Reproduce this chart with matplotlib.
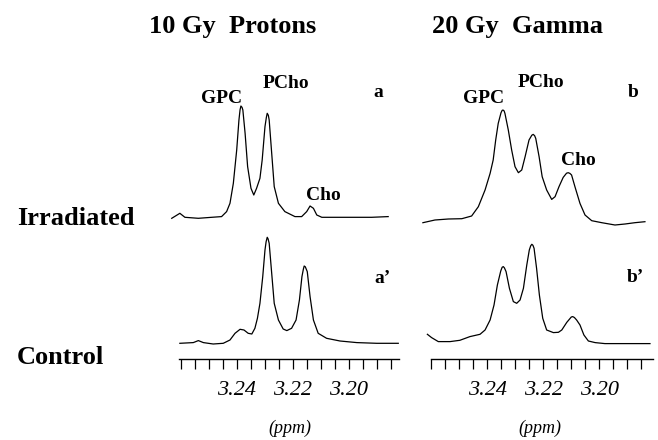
import matplotlib
matplotlib.use('Agg')
import matplotlib.pyplot as plt
from matplotlib.ticker import FixedLocator

plt.rcParams['font.family'] = ['Liberation Serif', 'DejaVu Serif']

# ---------------- data ----------------
# 10 Gy protons, irradiated (a)
prot_irr_ppm = [3.2632, 3.2603, 3.2585, 3.2537, 3.2489, 3.2454, 3.2436, 3.2424, 3.2412,
                3.2400, 3.2392, 3.2388, 3.2385, 3.2381, 3.2378, 3.2370, 3.2361, 3.2349,
                3.2339, 3.2329, 3.2317, 3.2309, 3.2299, 3.2294, 3.2291, 3.2287, 3.2284,
                3.2275, 3.2266, 3.2251, 3.2228, 3.2192, 3.2168, 3.2150, 3.2138, 3.2126,
                3.2114, 3.2096, 3.2037, 3.1966, 3.1918, 3.1859]
prot_irr_int = [-1.0, 4.0, 0.0, -1.0, 0.0, 0.7, 5.7, 14.0, 34.0,
                67.3, 97.3, 107.5, 111.3, 110.0, 107.3, 84.0, 50.7, 29.0,
                22.3, 29.0, 39.0, 57.3, 90.7, 100.0, 104.0, 102.0, 97.3,
                64.0, 30.7, 14.0, 5.7, 0.7, 0.7, 5.7, 11.3, 9.0,
                2.3, 0.0, 0.0, 0.0, 0.0, 0.7]

# 10 Gy protons, control (a')
prot_ctl_ppm = [3.2603, 3.2555, 3.2537, 3.2519, 3.2484, 3.2448, 3.2424, 3.2406, 3.2388,
                3.2374, 3.2359, 3.2346, 3.2335, 3.2326, 3.2317, 3.2307, 3.2299, 3.2295,
                3.2291, 3.2288, 3.2284, 3.2275, 3.2266, 3.2251, 3.2234, 3.2221, 3.2204,
                3.2188, 3.2176, 3.2167, 3.2162, 3.2159, 3.2155, 3.2148, 3.2138, 3.2126,
                3.2109, 3.2079, 3.2031, 3.1971, 3.1900, 3.1823]
prot_ctl_int = [0.0, 0.7, 2.7, 0.7, -0.7, 0.0, 3.3, 10.0, 14.0,
                13.3, 10.0, 9.3, 15.0, 25.0, 40.0, 66.7, 93.3, 101.5,
                106.0, 104.5, 100.0, 70.0, 40.0, 23.3, 14.3, 12.7, 15.0,
                23.3, 43.3, 66.7, 74.0, 77.3, 76.5, 71.7, 46.7, 23.3,
                10.0, 5.0, 2.3, 0.7, 0.0, 0.0]

# 20 Gy gamma, irradiated (b)
gam_irr_ppm = [3.2630, 3.2587, 3.2539, 3.2491, 3.2456, 3.2432, 3.2408, 3.2390, 3.2379,
               3.2370, 3.2361, 3.2351, 3.2347, 3.2344, 3.2340, 3.2337, 3.2325, 3.2313,
               3.2301, 3.2289, 3.2277, 3.2265, 3.2251, 3.2241, 3.2236, 3.2231, 3.2227,
               3.2215, 3.2204, 3.2188, 3.2170, 3.2158, 3.2144, 3.2129, 3.2117, 3.2111,
               3.2105, 3.2099, 3.2087, 3.2069, 3.2051, 3.2027, 3.1991, 3.1944, 3.1908,
               3.1873, 3.1837]
gam_irr_int = [-1.0, 1.7, 2.7, 3.0, 5.7, 15.0, 31.7, 48.3, 61.7,
               81.7, 98.3, 109.0, 111.3, 111.7, 110.8, 108.3, 91.7, 71.7,
               55.0, 49.0, 51.7, 65.0, 81.7, 86.5, 87.3, 86.0, 83.3,
               65.0, 45.0, 31.7, 22.3, 25.0, 35.0, 44.3, 48.5, 49.0,
               48.3, 46.7, 35.0, 18.3, 6.7, 1.0, -1.0, -3.3, -2.3,
               -1.0, 0.0]

# 20 Gy gamma, control (b')
gam_ctl_ppm = [3.2614, 3.2599, 3.2575, 3.2533, 3.2498, 3.2462, 3.2426, 3.2408, 3.2390,
               3.2376, 3.2364, 3.2352, 3.2347, 3.2343, 3.2339, 3.2333, 3.2321, 3.2307,
               3.2295, 3.2283, 3.2271, 3.2259, 3.2250, 3.2245, 3.2241, 3.2237, 3.2233,
               3.2224, 3.2214, 3.2202, 3.2188, 3.2164, 3.2146, 3.2134, 3.2116, 3.2100,
               3.2095, 3.2089, 3.2081, 3.2069, 3.2055, 3.2039, 3.2015, 3.1980, 3.1926,
               3.1866, 3.1819]
gam_ctl_int = [8.0, 4.7, 0.7, 0.7, 2.0, 5.7, 8.0, 12.3, 22.3,
               37.3, 57.3, 71.3, 75.0, 75.7, 74.5, 70.7, 54.0, 40.7,
               39.0, 42.3, 54.0, 77.3, 92.3, 96.5, 98.0, 97.0, 94.0,
               74.0, 47.3, 24.0, 12.3, 9.7, 10.0, 12.3, 20.0, 25.3,
               25.7, 24.8, 22.3, 17.3, 7.3, 1.3, -0.3, -1.3, -1.3,
               -1.3, -1.3]

column_titles = ['10 Gy  Protons', '20 Gy  Gamma']
row_labels = ['Irradiated', 'Control']
panel_tags = [['a', 'a\u2019'], ['b', 'b\u2019']]
peak_names = ['GPC', 'PCho', 'Cho']
major_ticks = [3.24, 3.22, 3.20]
major_labels = ['3.24', '3.22', '3.20']
minor_ticks = [3.26, 3.255, 3.25, 3.245, 3.235, 3.23, 3.225, 3.215, 3.21, 3.205,
               3.195, 3.19, 3.185]
x_label = '(ppm)'

# ---------------- layout ----------------
W, H = 658, 440
fig = plt.figure(figsize=(W / 100, H / 100), dpi=100)


def fx(px):
    return px / W


def fy(py):
    return 1 - py / H


AX_TOP, AX_BOT = 60, 400          # pixel rows covered by the axes
CTRL_BASE = 343.3                 # pixel row of data y = 0


def make_axes(left_px, right_px, ref_px, bounds):
    # ppm = 3.24 - (x - ref_px) / 2800  (56 px per 0.02 ppm)
    ax = fig.add_axes([fx(left_px), fy(AX_BOT), (right_px - left_px) / W,
                       (AX_BOT - AX_TOP) / H])
    ax.set_xlim(3.24 + (ref_px - left_px) / 2800, 3.24 - (right_px - ref_px) / 2800)
    ax.set_ylim(CTRL_BASE - AX_BOT, CTRL_BASE - AX_TOP)
    ax.patch.set_visible(False)
    for s in ['top', 'left', 'right']:
        ax.spines[s].set_visible(False)
    ax.spines['bottom'].set_position(('data', CTRL_BASE - 359))
    ax.spines['bottom'].set_bounds(*bounds)
    ax.spines['bottom'].set_linewidth(1.0)
    ax.set_yticks([])
    ax.xaxis.set_major_locator(FixedLocator(major_ticks))
    ax.set_xticklabels(major_labels, fontsize=16, fontstyle='italic')
    ax.xaxis.set_minor_locator(FixedLocator(minor_ticks))
    ax.tick_params(axis='x', which='both', direction='out', length=7.2, width=0.9,
                   pad=8.5)
    return ax


axL = make_axes(165, 405, 236.7, (3.2607, 3.1820))
axR = make_axes(415, 655, 487.3, (3.2601, 3.1808))

lw = 0.9
off_L_irr = CTRL_BASE - 217.3
off_R_irr = CTRL_BASE - 221.7
off_R_ctl = CTRL_BASE - 342.3

axL.plot(prot_irr_ppm, [v + off_L_irr for v in prot_irr_int], color='black', lw=lw)
axL.plot(prot_ctl_ppm, prot_ctl_int, color='black', lw=lw)
axR.plot(gam_irr_ppm, [v + off_R_irr for v in gam_irr_int], color='black', lw=lw)
axR.plot(gam_ctl_ppm, [v + off_R_ctl for v in gam_ctl_int], color='black', lw=lw)

# ---------------- text ----------------
bold_big = dict(fontsize=19, fontweight='bold', va='baseline')
fig.text(fx(232.5), fy(33), column_titles[0], ha='center', **bold_big)
fig.text(fx(517), fy(33), column_titles[1], ha='center', **bold_big)
fig.text(fx(17), fy(225), row_labels[0], ha='left', **bold_big)
fig.text(fx(17), fy(364), row_labels[1], ha='left', **bold_big)

pk = dict(fontsize=14, fontweight='bold', va='baseline', ha='center')
fig.text(fx(222), fy(103), peak_names[0], **pk)
fig.text(fx(286), fy(88), peak_names[1], **pk)
fig.text(fx(323), fy(200), peak_names[2], **pk)
fig.text(fx(378), fy(97), panel_tags[0][0], **pk)
fig.text(fx(484), fy(103), peak_names[0], **pk)
fig.text(fx(541), fy(87), peak_names[1], **pk)
fig.text(fx(578), fy(165), peak_names[2], **pk)
fig.text(fx(633), fy(97), panel_tags[1][0], **pk)
pk_l = dict(pk)
pk_l['ha'] = 'left'
fig.text(fx(374), fy(283), panel_tags[0][1], **pk_l)
fig.text(fx(627), fy(282), panel_tags[1][1], **pk_l)

fig.text(fx(290), fy(428), x_label, ha='center', va='center', fontsize=13,
         fontstyle='italic')
fig.text(fx(540), fy(428), x_label, ha='center', va='center', fontsize=13,
         fontstyle='italic')

fig.savefig('out.png', dpi=100)
